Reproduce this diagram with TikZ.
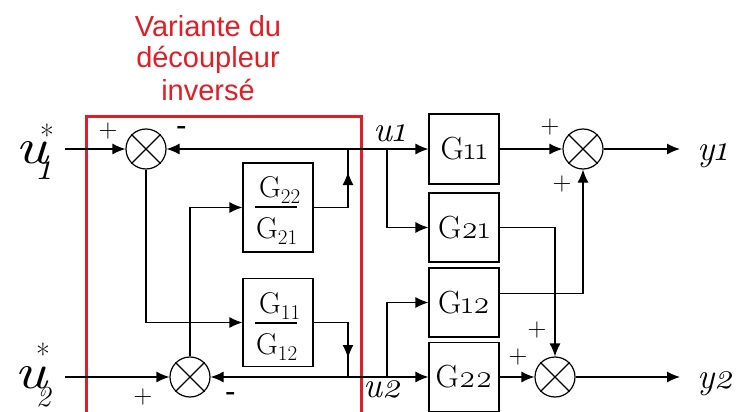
\documentclass[tikz,border=0pt]{standalone}
\usepackage{fontspec}
\setmainfont{Latin Modern Roman}
\newfontfamily\arialf{Liberation Sans}
\newcommand\onum[1]{{\addfontfeature{Numbers=OldStyle}#1}}
\newcommand\fsz[1]{\fontsize{#1}{#1}\selectfont}
\usetikzlibrary{arrows.meta,calc}
\definecolor{redbox}{RGB}{226,30,36}
\begin{document}
\begin{tikzpicture}[x=1pt,y=-1pt,
  ln/.style={line width=1.2pt},
  arr/.style={ln,-{Latex[length=13pt,width=11pt]}},
  blk/.style={draw,ln,minimum width=70pt,inner sep=0pt},
  gtxt/.style={font=\fsz{32}},
  sumj/.style={draw,ln,circle,minimum size=40pt,inner sep=0pt},
  sg/.style={font=\fsz{26},inner sep=0pt},
  lbl/.style={inner sep=0pt},
  frc/.style={inner sep=0pt,anchor=base west,font=\fsz{30}},
  redtxt/.style={font=\arialf\fsz{29},text=redbox,anchor=base,inner sep=0pt}
]
\clip (0,0) rectangle (737,412);

% red frame and title
\draw[redbox,line width=3pt] (86,117) rectangle (361,440);
\node[redtxt] (t1) at (208,37) {Variante du};
\node[redtxt] (t2) at (208,68) {découpleur};
\node[redtxt] (t3) at (208,100) {inversé};

% summing junctions
\node[sumj] (s1) at (146,149) {};
\node[sumj] (s2) at (190,377) {};
\node[sumj] (s3) at (583,149) {};
\node[sumj] (s4) at (555,377) {};
\foreach \s in {s1,s2,s3,s4}{
  \draw[ln] (\s.north west) -- (\s.south east) (\s.north east) -- (\s.south west);
}

% decoupler blocks
\node[blk,minimum height=89pt] (f1) at (278,207.5) {};
\node[frc] (f1n) at (259,197) {G\raisebox{-6pt}{\fsz{21}22}};
\node[frc] (f1d) at (256,238) {G\raisebox{-6pt}{\fsz{21}21}};
\draw[line width=1.2pt] (255,207) -- (297,207);
\node[blk,minimum height=88pt] (f2) at (278,322.5) {};
\node[frc] (f2n) at (259,313) {G\raisebox{-6pt}{\fsz{21}11}};
\node[frc] (f2d) at (256,354) {G\raisebox{-6pt}{\fsz{21}12}};
\draw[line width=1.2pt] (255,323) -- (297,323);

% process blocks
\node[blk,gtxt,minimum height=70pt] (g11) at (464,149) {G\onum{11}};
\node[blk,gtxt,minimum height=69pt] (g21) at (464,227.5) {G\onum{21}};
\node[blk,gtxt,minimum height=69pt] (g12) at (464,302.5) {G\onum{12}};
\node[blk,gtxt,minimum height=69pt] (g22) at (464,377) {G\onum{22}};

% input labels (u with superscript * and subscript index, one text each)
\node[lbl,anchor=base west,font=\fsz{50}\itshape] (lu1) at (15,163)
  {\scalebox{1.25}[1]{u}\hspace{-8pt}\rlap{\raisebox{17pt}{\fsz{30}\upshape *}}\hspace{-3pt}\raisebox{-17pt}{\fsz{38}\onum{1}}};
\node[lbl,anchor=base west,font=\fsz{50}\itshape] (lu2) at (14,388)
  {\scalebox{1.25}[1]{u}\hspace{-11pt}\rlap{\raisebox{23pt}{\fsz{30}\upshape *}}\raisebox{-18pt}{\fsz{29}2}};

% signal labels
\node[lbl,anchor=base west,font=\fsz{36}\itshape] (u1) at (373,142) {u\onum{1}};
\node[lbl,anchor=base west,font=\fsz{36}\itshape] (u2) at (363,397) {u\onum{2}};
\node[lbl,anchor=base west,font=\fsz{36}\itshape] (y1) at (697,160) {y\onum{1}};
\node[lbl,anchor=base west,font=\fsz{36}\itshape] (y2) at (697,388) {y\onum{2}};

% signs
\node[sg] (p1) at (108,131) {+};
\node[sg] (n1) at (182,130) {\bfseries -};
\node[sg] (p2) at (143,397) {+};
\node[sg] (n2) at (231,396) {\bfseries -};
\node[sg] (p3) at (550,127) {+};
\node[sg] (p4) at (562,184) {+};
\node[sg] (p5) at (537,330) {+};
\node[sg] (p6) at (518,357) {+};

% coordinates
\coordinate (i1) at (65,149);
\coordinate (i2) at (65,377);
\coordinate (j1) at (348,149);
\coordinate (j2) at (348,377);
\coordinate (m1) at (348,172);
\coordinate (m2) at (348,358);
\coordinate (b1) at (387,149);
\coordinate (b2) at (387,377);
\coordinate (o1) at (680,149);
\coordinate (o2) at (680,377);

% decoupler connections
\draw[arr] (i1) -- (s1);
\draw[arr] (i2) -- (s2);
\draw[arr] (s1.south) |- (f2.west);
\draw[arr] (s2.north) |- (f1.west);
\draw[ln] (f1.east) -| (j1);
\draw[arr] (f1.east -| j1) -- (m1);
\draw[ln] (f2.east) -| (j2);
\draw[arr] (f2.east -| j2) -- (m2);
\draw[arr] (j1) -- (s1.east);
\draw[arr] (j1) -- (g11.west);
\draw[arr] (j2) -- (s2.east);
\draw[arr] (j2) -- (g22.west);

% process connections
\draw[arr] (b1) |- (g21.west);
\draw[arr] (b2) |- (g12.west);
\draw[arr] (g11.east) -- (s3.west);
\draw[arr] ([yshift=9pt]g12.east) -| (s3.south);
\draw[arr] (g21.east) -| (s4.north);
\draw[arr] (g22.east) -- (s4.west);
\draw[arr] (s3.east) -- (o1);
\draw[arr] (s4.east) -- (o2);
\end{tikzpicture}
\end{document}
